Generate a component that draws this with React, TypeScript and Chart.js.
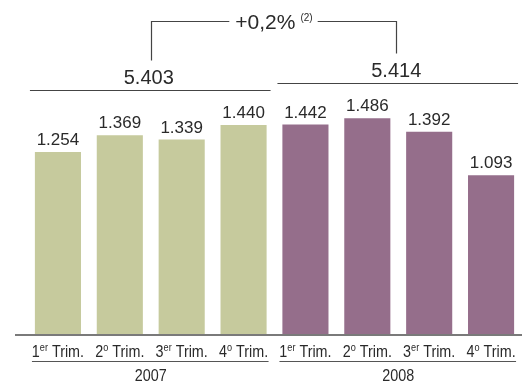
import { useEffect, useRef } from 'react';
import { Chart, registerables } from 'chart.js';

Chart.register(...registerables);

// Quarterly figures, 2007 and 2008
const quarterNumbers = ['1', '2', '3', '4', '1', '2', '3', '4'];
const quarterSuffixes = ['er', 'o', 'er', 'o', 'er', 'o', 'er', 'o'];
const quarterWord = 'Trim.';
const years = ['2007', '2008'];
const yearOfBar = [0, 0, 0, 0, 1, 1, 1, 1];
const values = [1254, 1369, 1339, 1440, 1442, 1486, 1392, 1093];
const yearTotals = [5403, 5414];
const changeLabel = '+0,2%';
const changeNote = '(2)';
const yearColors = ['#c6ca9d', '#956e8b'];

const categories = quarterNumbers.map((n, i) => `${n}${quarterSuffixes[i]} ${quarterWord}`);

const fmt = (v: number) => String(v).replace(/\B(?=(\d{3})+(?!\d))/g, '.');

const SANS = '"Liberation Sans", Arial, sans-serif';
// axis text is set in a horizontally squeezed sans to get a condensed face
const SQUEEZE = 0.87;
const AXIS_SIZE = 16.5;
const SUP_SIZE = 10.5;

function textW(ctx: CanvasRenderingContext2D, s: string, size: number) {
  ctx.font = `${size}px ${SANS}`;
  return ctx.measureText(s).width * SQUEEZE;
}

function drawSqueezed(ctx: CanvasRenderingContext2D, s: string, x: number, y: number, size: number) {
  ctx.save();
  ctx.font = `${size}px ${SANS}`;
  ctx.textAlign = 'left';
  ctx.translate(x, y);
  ctx.scale(SQUEEZE, 1);
  ctx.fillText(s, 0, 0);
  ctx.restore();
}

const annotations = {
  id: 'annotations',
  afterDraw(chart: Chart) {
    const ctx = chart.ctx;
    const xs = chart.scales.x;
    const ys = chart.scales.y;
    const meta = chart.getDatasetMeta(0);
    const base = ys.getPixelForValue(0);
    ctx.save();

    // baseline
    ctx.strokeStyle = '#7a7a7a';
    ctx.lineWidth = 2;
    ctx.beginPath();
    ctx.moveTo(15, base + 1);
    ctx.lineTo(chart.width, base + 1);
    ctx.stroke();

    // value labels above bars
    ctx.fillStyle = '#2a2a2a';
    ctx.textAlign = 'center';
    ctx.textBaseline = 'alphabetic';
    ctx.font = `17px ${SANS}`;
    meta.data.forEach((el: any, i: number) => {
      ctx.fillText(fmt(values[i]), el.x, el.y - 7);
    });

    // quarter tick labels with superscript ordinals
    categories.forEach((_, i) => {
      const cx = xs.getPixelForValue(i);
      const wNum = textW(ctx, quarterNumbers[i], AXIS_SIZE);
      const wSup = textW(ctx, quarterSuffixes[i], SUP_SIZE);
      const wWord = textW(ctx, ' ' + quarterWord, AXIS_SIZE);
      let x = cx - (wNum + wSup + wWord) / 2;
      drawSqueezed(ctx, quarterNumbers[i], x, 357, AXIS_SIZE);
      x += wNum;
      drawSqueezed(ctx, quarterSuffixes[i], x, 350.5, SUP_SIZE);
      x += wSup;
      drawSqueezed(ctx, ' ' + quarterWord, x, 357, AXIS_SIZE);
    });

    // per-year groups: year labels, totals
    const groupInfo = years.map((year, g) => {
      const idx = yearOfBar.map((y, i) => (y === g ? i : -1)).filter((i) => i >= 0);
      const first = meta.data[idx[0]] as any;
      const last = meta.data[idx[idx.length - 1]] as any;
      const center = (first.x + last.x) / 2;
      const top = Math.min(...idx.map((i) => (meta.data[i] as any).y));

      ctx.strokeStyle = '#555';
      ctx.lineWidth = 1;
      ctx.beginPath();
      ctx.moveTo(first.x - 26, 361.5);
      ctx.lineTo(last.x + 25, 361.5);
      ctx.stroke();

      const wYear = textW(ctx, year, AXIS_SIZE);
      drawSqueezed(ctx, year, center - wYear / 2, 381, AXIS_SIZE);

      const lineY = Math.round(top - 35) + 0.5;
      ctx.strokeStyle = '#444';
      ctx.lineWidth = 1.2;
      ctx.beginPath();
      ctx.moveTo(first.x - 28, lineY);
      ctx.lineTo(last.x + 27, lineY);
      ctx.stroke();

      ctx.textAlign = 'center';
      ctx.font = `20px ${SANS}`;
      ctx.fillText(fmt(yearTotals[g]), center - 2, lineY - 7);
      return { center, lineY };
    });

    // change bracket between the two totals
    const leftX = Math.round(groupInfo[0].center) + 0.5;
    const rightX = Math.round(groupInfo[1].center) - 1.5;
    const topY = 21.5;
    ctx.font = `21px ${SANS}`;
    const wMain = ctx.measureText(changeLabel).width;
    ctx.font = `10px ${SANS}`;
    const wNote = ctx.measureText(changeNote).width;
    const gap = 5;
    const total = wMain + gap + wNote;
    const mid = (leftX + rightX) / 2;
    const start = mid - total / 2;
    const end = start + total;

    ctx.strokeStyle = '#444';
    ctx.lineWidth = 1.2;
    ctx.beginPath();
    ctx.moveTo(leftX, groupInfo[0].lineY - 30);
    ctx.lineTo(leftX, topY);
    ctx.lineTo(start - 6, topY);
    ctx.moveTo(end + 5, topY);
    ctx.lineTo(rightX, topY);
    ctx.lineTo(rightX, groupInfo[1].lineY - 30);
    ctx.stroke();

    ctx.textAlign = 'left';
    ctx.font = `21px ${SANS}`;
    ctx.fillText(changeLabel, start, 28.5);
    ctx.font = `10px ${SANS}`;
    ctx.fillText(changeNote, start + wMain + gap, 21);

    ctx.restore();
  },
};

export default function App() {
  const ref = useRef<HTMLCanvasElement>(null);

  useEffect(() => {
    if (!ref.current) return;
    const chart = new Chart(ref.current, {
      type: 'bar',
      data: {
        labels: categories,
        datasets: [
          {
            data: values,
            backgroundColor: yearOfBar.map((y) => yearColors[y]),
            borderWidth: 0,
            barPercentage: 0.745,
            categoryPercentage: 1,
          },
        ],
      },
      options: {
        responsive: false,
        animation: false,
        devicePixelRatio: 1,
        layout: { padding: { left: 27, right: 0, top: 0, bottom: 51 } },
        plugins: { legend: { display: false }, tooltip: { enabled: false } },
        scales: {
          x: { display: false },
          y: { display: false, min: 0, max: 2300 },
        },
      },
      plugins: [annotations],
    });
    return () => chart.destroy();
  }, []);

  return (
    <div style={{ position: 'absolute', left: 0, top: 0, width: 522, height: 385, background: '#fff' }}>
      <canvas ref={ref} width={522} height={385} />
    </div>
  );
}
